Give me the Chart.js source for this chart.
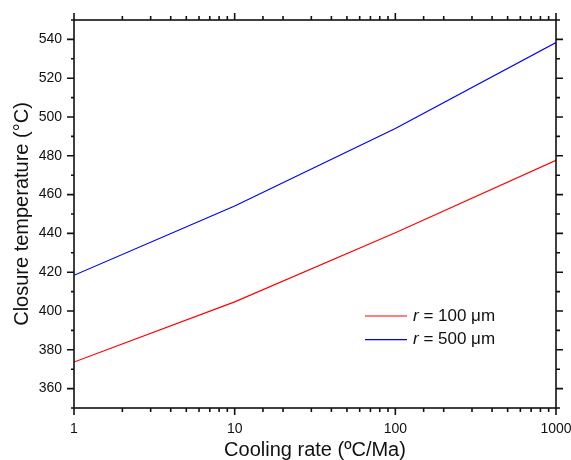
<!DOCTYPE html>
<html>
<head>
<meta charset="utf-8">
<script src="https://cdn.jsdelivr.net/npm/chart.js@4.4.0/dist/chart.umd.min.js"></script>
<style>
  html, body { margin: 0; padding: 0; background: #fff; }
  #wrap { width: 571px; height: 460px; }
</style>
</head>
<body>
<div id="wrap"><canvas id="chart"></canvas></div>
<script>
// cooling rates (ºC/Ma) and closure temperatures
const rates = [1, 10, 100, 1000];
const temp100 = [373.7, 404.7, 440.3, 477.7];   // r = 100 µm
const temp500 = [418.4, 454.1, 494.1, 538.4];   // r = 500 µm
const radii = ['100', '500'];
const yLabels = [360, 380, 400, 420, 440, 460, 480, 500, 520, 540];
const xLabels = [1, 10, 100, 1000];

const FONT = '"Liberation Sans", Arial, sans-serif';
const AXIS = '#111';

Chart.defaults.font.family = FONT;
Chart.defaults.color = AXIS;

function toPoints(ys) {
    return rates.map((r, i) => ({ x: r, y: ys[i] }));
}

// frame + tick marks on all four sides
const framePlugin = {
    id: 'frame',
    afterDatasetsDraw(chart) {
        const { ctx, chartArea: a, scales } = chart;
        ctx.save();
        ctx.strokeStyle = AXIS;
        ctx.lineWidth = 1.6;
        ctx.strokeRect(a.left, a.top, a.right - a.left, a.bottom - a.top);

        ctx.beginPath();
        scales.x.ticks.forEach(t => {
            const px = scales.x.getPixelForValue(t.value);
            const major = xLabels.includes(t.value);
            const len = major ? 7 : 4;
            ctx.moveTo(px, a.bottom); ctx.lineTo(px, a.bottom + len);
            ctx.moveTo(px, a.top); ctx.lineTo(px, a.top - len);
        });
        scales.y.ticks.forEach(t => {
            const py = scales.y.getPixelForValue(t.value);
            const major = t.value % 20 === 0;
            ctx.moveTo(a.left, py); ctx.lineTo(a.left - (major ? 7 : 3), py);
            ctx.moveTo(a.right, py); ctx.lineTo(a.right + (major ? 7 : 4), py);
        });
        ctx.stroke();
        ctx.restore();
    }
};

// legend with italic r
const legendPlugin = {
    id: 'rLegend',
    afterDraw(chart) {
        const { ctx, chartArea: a } = chart;
        const x0 = a.right - 191;
        const y0 = a.bottom - 92;
        ctx.save();
        chart.data.datasets.forEach((ds, i) => {
            const y = y0 + i * 23.6;
            ctx.strokeStyle = ds.borderColor;
            ctx.lineWidth = 1.2;
            ctx.beginPath();
            ctx.moveTo(x0, y); ctx.lineTo(x0 + 42, y);
            ctx.stroke();
            ctx.fillStyle = AXIS;
            ctx.textBaseline = 'middle';
            let tx = x0 + 48;
            ctx.font = 'italic 17px ' + FONT;
            ctx.fillText('r', tx, y);
            tx += ctx.measureText('r').width;
            ctx.font = '17px ' + FONT;
            ctx.fillText(' = ' + ds.label + ' \u03bcm', tx, y);
        });
        ctx.restore();
    }
};

new Chart(document.getElementById('chart'), {
    type: 'line',
    data: {
        datasets: [
            {
                label: radii[0],
                data: toPoints(temp100),
                borderColor: '#ff0000',
                borderWidth: 1.2,
                pointRadius: 0,
                tension: 0
            },
            {
                label: radii[1],
                data: toPoints(temp500),
                borderColor: '#0000ff',
                borderWidth: 1.2,
                pointRadius: 0,
                tension: 0
            }
        ]
    },
    options: {
        responsive: true,
        maintainAspectRatio: false,
        animation: false,
        layout: { padding: { top: 20, right: 0, left: 0, bottom: 0 } },
        plugins: {
            legend: { display: false },
            tooltip: { enabled: false }
        },
        scales: {
            x: {
                type: 'logarithmic',
                min: 1,
                max: 1000,
                grid: { display: false, drawTicks: false },
                border: { display: false },
                ticks: {
                    autoSkip: false,
                    maxRotation: 0,
                    padding: 13,
                    font: { size: 14 },
                    color: AXIS,
                    callback: v => xLabels.includes(v) ? String(v) : ''
                },
                title: {
                    display: true,
                    text: 'Cooling rate (\u00baC/Ma)',
                    font: { size: 20 },
                    color: AXIS,
                    padding: { top: 0, bottom: -2 }
                },
                afterFit: s => {
                    s.height = 52;
                    s.paddingLeft = 0;
                    s.paddingRight = 15;
                }
            },
            y: {
                min: 350,
                max: 550,
                grid: { display: false, drawTicks: false },
                border: { display: false },
                ticks: {
                    stepSize: 10,
                    autoSkip: false,
                    padding: 12,
                    font: { size: 14 },
                    color: AXIS,
                    callback: v => yLabels.includes(v) ? String(v) : ''
                },
                title: {
                    display: true,
                    text: 'Closure temperature (\u00b0C)',
                    font: { size: 20 },
                    color: AXIS,
                    padding: { top: 10, bottom: 0 }
                },
                afterFit: s => {
                    s.width = 74;
                    s.paddingTop = 0;
                    s.paddingBottom = 0;
                }
            }
        }
    },
    plugins: [framePlugin, legendPlugin]
});
</script>
</body>
</html>
